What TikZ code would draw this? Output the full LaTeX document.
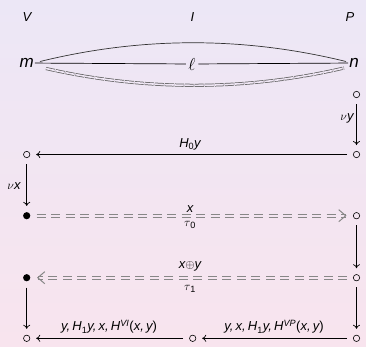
\documentclass[tikz,border=0pt]{standalone}
\usepackage{fontspec}
\setmainfont{Liberation Sans}
\usetikzlibrary{arrows.meta}
\definecolor{bgtop}{RGB}{236,231,246}
\definecolor{bgbot}{RGB}{248,228,238}
\definecolor{dgray}{RGB}{135,135,135}
\newcommand\mysub[1]{\textsubscript{\upshape #1}}
\begin{document}
\begin{tikzpicture}[x=1pt,y=-1pt,
  lab/.style={font=\fontsize{13}{16}\selectfont\itshape, inner sep=1pt},
  big/.style={font=\fontsize{17}{20}\selectfont\itshape, inner sep=1pt},
  oc/.style={circle, draw, line width=0.6pt, minimum size=6.4pt, inner sep=0pt},
  fc/.style={circle, fill, minimum size=7.2pt, inner sep=0pt},
  ar/.style={line width=0.7pt, -{To[length=4pt,width=7pt]}, shorten >=6pt, shorten <=6pt},
  dl/.style={draw=dgray, line width=1pt, dash pattern=on 9pt off 5.5pt},
  dtip/.style={draw=dgray, line width=1pt, -{Straight Barb[length=7pt,width=12pt]}}
]
\shade[top color=bgtop, bottom color=bgbot] (0,0) rectangle (366,346);
\useasboundingbox (0,0) rectangle (366,346);

% top labels
\node[lab] (V) at (27,17) {V};
\node[lab] (I) at (192.5,17) {I};
\node[lab] (P) at (350,17) {P};

\node[big] (m) at (26.7,63) {m};
\node[big] (n) at (354,63) {n};
\node[font=\fontsize{18}{20}\selectfont, inner sep=2.5pt] (l) at (192,64) {$\ell$};

\coordinate (mt) at (40,61.5);
\coordinate (nt) at (346,61.5);
\coordinate (mb) at (46,68.5);
\coordinate (nb) at (344,68);
\draw[black!80, line width=0.7pt] (mt) .. controls (142,36.5) and (244,36.5) .. (nt);
\draw[line width=0.7pt] (m) -- (l) -- (n);
\draw[black!62, line width=0.75pt, double=bgtop!77!bgbot, double distance=1.6pt, dash pattern=on 9pt off 1pt]
  (mb) .. controls (145,91) and (245,91) .. (nb);

% circles
\node[oc] (c0)  at (356.5,94.5) {};
\node[oc] (r1L) at (26.7,154.5) {};
\node[oc] (r1R) at (356.5,154.5) {};
\node[fc] (r2L) at (26.7,215.7) {};
\node[oc] (r2R) at (356.5,215.7) {};
\node[fc] (r3L) at (26.7,277.7) {};
\node[oc] (r3R) at (356.5,277.7) {};
\node[oc] (r4L) at (26.7,338.3) {};
\node[oc] (r4M) at (192.7,338.3) {};
\node[oc] (r4R) at (356.5,338.3) {};

% arrows
\draw[ar] (c0) -- (r1R);
\node[lab] (ny) at (347,118) {$\nu$y};
\draw[ar] (r1R) -- (r1L);
\node[lab] (h0) at (190,144) {H\mysub{0}y};
\draw[ar] (r1L) -- (r2L);
\node[lab] (nx) at (14,186) {$\nu$x};

% dashed double arrow, row 2 (left to right)
\draw[dl] ([xshift=6pt,yshift=1.7pt]r2L.east) -- ([xshift=-7pt,yshift=1.7pt]r2R.west);
\draw[dl] ([xshift=6pt,yshift=-1.7pt]r2L.east) -- ([xshift=-7pt,yshift=-1.7pt]r2R.west);
\draw[dtip] ([xshift=-8pt]r2R.west) -- ([xshift=-6.5pt]r2R.west);
\node[lab] (x0) at (190,209) {x};
\node[lab] (t0) at (190,225) {$\tau$\mysub{0}};
\draw[ar] (r2R) -- (r3R);

% dashed double arrow, row 3 (right to left)
\draw[dl] ([xshift=-6pt,yshift=1.7pt]r3R.west) -- ([xshift=7pt,yshift=1.7pt]r3L.east);
\draw[dl] ([xshift=-6pt,yshift=-1.7pt]r3R.west) -- ([xshift=7pt,yshift=-1.7pt]r3L.east);
\draw[dtip] ([xshift=8pt]r3L.east) -- ([xshift=6.5pt]r3L.east);
\node[lab] (xy) at (190,266.5) {x$\oplus$y};
\node[lab] (t1) at (190,289) {$\tau$\mysub{1}};

\draw[ar] (r3L) -- (r4L);
\draw[ar] (r3R) -- (r4R);
\draw[ar] (r4R) -- (r4M);
\draw[ar] (r4M) -- (r4L);
\node[lab] (lr) at (274,327) {y,\,x,\,H\mysub{1}y,\,H\textsuperscript{VP}{\upshape(}x,\,y{\upshape)}};
\node[lab] (ll) at (109,327) {y,\,H\mysub{1}y,\,x,\,H\textsuperscript{VI}{\upshape(}x,\,y{\upshape)}};
\end{tikzpicture}
\end{document}
